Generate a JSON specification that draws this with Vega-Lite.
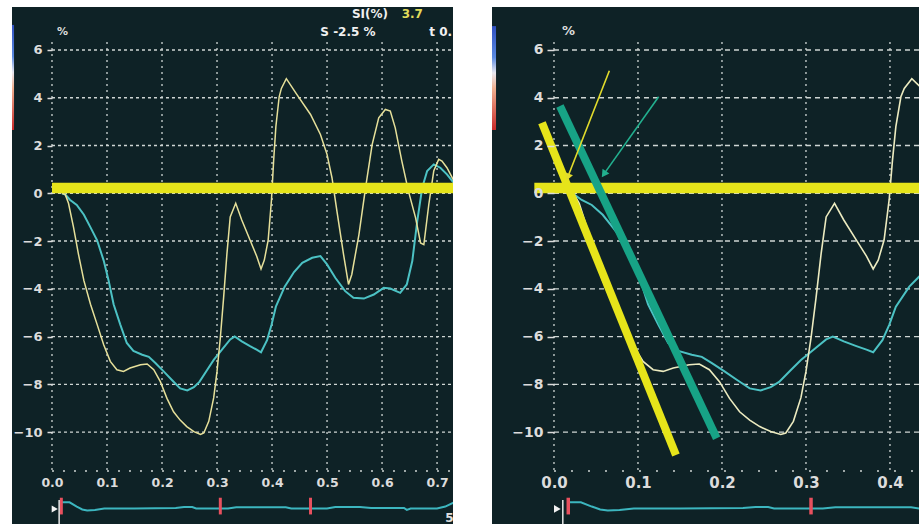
{
  "$schema": "https://vega.github.io/schema/vega-lite/v6.json",
  "background": "white",
  "padding": {"left": 12, "top": 7, "right": 0, "bottom": 0},
  "spacing": 33,
  "config": {
    "view": {"stroke": null, "fill": "#0e2226"},
    "text": {"font": "DejaVu Sans"}
  },
  "datasets": {
    "strain": [
      {"t": 0.018, "v": 0, "s": "yellow"}, {"t": 0.024, "v": -0.05, "s": "yellow"}, {"t": 0.030, "v": -0.42, "s": "yellow"}, {"t": 0.039, "v": -1.41, "s": "yellow"},
      {"t": 0.048, "v": -2.54, "s": "yellow"}, {"t": 0.058, "v": -3.66, "s": "yellow"}, {"t": 0.070, "v": -4.65, "s": "yellow"}, {"t": 0.082, "v": -5.49, "s": "yellow"},
      {"t": 0.094, "v": -6.34, "s": "yellow"}, {"t": 0.106, "v": -7.04, "s": "yellow"}, {"t": 0.118, "v": -7.39, "s": "yellow"}, {"t": 0.130, "v": -7.46, "s": "yellow"},
      {"t": 0.142, "v": -7.32, "s": "yellow"}, {"t": 0.161, "v": -7.18, "s": "yellow"}, {"t": 0.173, "v": -7.15, "s": "yellow"}, {"t": 0.185, "v": -7.39, "s": "yellow"},
      {"t": 0.197, "v": -7.89, "s": "yellow"}, {"t": 0.209, "v": -8.59, "s": "yellow"}, {"t": 0.221, "v": -9.15, "s": "yellow"}, {"t": 0.233, "v": -9.50, "s": "yellow"},
      {"t": 0.245, "v": -9.77, "s": "yellow"}, {"t": 0.258, "v": -9.98, "s": "yellow"}, {"t": 0.270, "v": -10.10, "s": "yellow"}, {"t": 0.276, "v": -10.04, "s": "yellow"},
      {"t": 0.285, "v": -9.55, "s": "yellow"}, {"t": 0.294, "v": -8.56, "s": "yellow"}, {"t": 0.300, "v": -7.46, "s": "yellow"}, {"t": 0.306, "v": -6.06, "s": "yellow"},
      {"t": 0.312, "v": -4.37, "s": "yellow"}, {"t": 0.318, "v": -2.54, "s": "yellow"}, {"t": 0.324, "v": -0.99, "s": "yellow"}, {"t": 0.334, "v": -0.42, "s": "yellow"},
      {"t": 0.345, "v": -1.12, "s": "yellow"}, {"t": 0.360, "v": -1.96, "s": "yellow"}, {"t": 0.372, "v": -2.63, "s": "yellow"}, {"t": 0.380, "v": -3.17, "s": "yellow"},
      {"t": 0.386, "v": -2.80, "s": "yellow"}, {"t": 0.393, "v": -1.96, "s": "yellow"}, {"t": 0.399, "v": -0.28, "s": "yellow"}, {"t": 0.403, "v": 1.39, "s": "yellow"},
      {"t": 0.407, "v": 2.79, "s": "yellow"}, {"t": 0.413, "v": 4.04, "s": "yellow"}, {"t": 0.417, "v": 4.39, "s": "yellow"}, {"t": 0.426, "v": 4.80, "s": "yellow"},
      {"t": 0.445, "v": 4.14, "s": "yellow"}, {"t": 0.470, "v": 3.30, "s": "yellow"}, {"t": 0.488, "v": 2.46, "s": "yellow"}, {"t": 0.500, "v": 1.63, "s": "yellow"},
      {"t": 0.509, "v": 0.65, "s": "yellow"}, {"t": 0.518, "v": -0.75, "s": "yellow"}, {"t": 0.530, "v": -2.56, "s": "yellow"}, {"t": 0.539, "v": -3.82, "s": "yellow"},
      {"t": 0.545, "v": -3.40, "s": "yellow"}, {"t": 0.558, "v": -1.73, "s": "yellow"}, {"t": 0.570, "v": 0.23, "s": "yellow"}, {"t": 0.582, "v": 2.04, "s": "yellow"},
      {"t": 0.594, "v": 3.16, "s": "yellow"}, {"t": 0.606, "v": 3.51, "s": "yellow"}, {"t": 0.615, "v": 3.44, "s": "yellow"}, {"t": 0.624, "v": 2.74, "s": "yellow"},
      {"t": 0.636, "v": 1.35, "s": "yellow"}, {"t": 0.648, "v": 0.09, "s": "yellow"}, {"t": 0.661, "v": -1.03, "s": "yellow"}, {"t": 0.670, "v": -2.08, "s": "yellow"},
      {"t": 0.676, "v": -2.15, "s": "yellow"}, {"t": 0.685, "v": -0.47, "s": "yellow"}, {"t": 0.694, "v": 0.93, "s": "yellow"}, {"t": 0.703, "v": 1.42, "s": "yellow"},
      {"t": 0.709, "v": 1.35, "s": "yellow"}, {"t": 0.718, "v": 1.07, "s": "yellow"}, {"t": 0.730, "v": 0.55, "s": "yellow"},
      {"t": 0.018, "v": 0, "s": "cyan"}, {"t": 0.024, "v": -0.05, "s": "cyan"}, {"t": 0.033, "v": -0.28, "s": "cyan"}, {"t": 0.045, "v": -0.49, "s": "cyan"},
      {"t": 0.058, "v": -0.90, "s": "cyan"}, {"t": 0.070, "v": -1.43, "s": "cyan"}, {"t": 0.082, "v": -1.97, "s": "cyan"}, {"t": 0.094, "v": -2.82, "s": "cyan"},
      {"t": 0.103, "v": -3.66, "s": "cyan"}, {"t": 0.112, "v": -4.65, "s": "cyan"}, {"t": 0.124, "v": -5.49, "s": "cyan"}, {"t": 0.136, "v": -6.27, "s": "cyan"},
      {"t": 0.148, "v": -6.60, "s": "cyan"}, {"t": 0.164, "v": -6.76, "s": "cyan"}, {"t": 0.176, "v": -6.85, "s": "cyan"}, {"t": 0.188, "v": -7.11, "s": "cyan"},
      {"t": 0.203, "v": -7.46, "s": "cyan"}, {"t": 0.218, "v": -7.82, "s": "cyan"}, {"t": 0.233, "v": -8.17, "s": "cyan"}, {"t": 0.246, "v": -8.26, "s": "cyan"},
      {"t": 0.258, "v": -8.12, "s": "cyan"}, {"t": 0.268, "v": -7.90, "s": "cyan"}, {"t": 0.282, "v": -7.40, "s": "cyan"}, {"t": 0.294, "v": -6.98, "s": "cyan"},
      {"t": 0.309, "v": -6.55, "s": "cyan"}, {"t": 0.324, "v": -6.12, "s": "cyan"}, {"t": 0.332, "v": -6.00, "s": "cyan"}, {"t": 0.345, "v": -6.20, "s": "cyan"},
      {"t": 0.360, "v": -6.40, "s": "cyan"}, {"t": 0.372, "v": -6.55, "s": "cyan"}, {"t": 0.380, "v": -6.66, "s": "cyan"}, {"t": 0.391, "v": -6.15, "s": "cyan"},
      {"t": 0.399, "v": -5.52, "s": "cyan"}, {"t": 0.407, "v": -4.75, "s": "cyan"}, {"t": 0.423, "v": -3.91, "s": "cyan"}, {"t": 0.440, "v": -3.30, "s": "cyan"},
      {"t": 0.455, "v": -2.91, "s": "cyan"}, {"t": 0.473, "v": -2.70, "s": "cyan"}, {"t": 0.488, "v": -2.63, "s": "cyan"}, {"t": 0.500, "v": -2.98, "s": "cyan"},
      {"t": 0.515, "v": -3.54, "s": "cyan"}, {"t": 0.533, "v": -4.10, "s": "cyan"}, {"t": 0.548, "v": -4.38, "s": "cyan"}, {"t": 0.567, "v": -4.41, "s": "cyan"},
      {"t": 0.585, "v": -4.24, "s": "cyan"}, {"t": 0.603, "v": -3.96, "s": "cyan"}, {"t": 0.615, "v": -3.99, "s": "cyan"}, {"t": 0.633, "v": -4.17, "s": "cyan"},
      {"t": 0.645, "v": -3.82, "s": "cyan"}, {"t": 0.655, "v": -2.84, "s": "cyan"}, {"t": 0.664, "v": -1.17, "s": "cyan"}, {"t": 0.673, "v": 0.23, "s": "cyan"},
      {"t": 0.682, "v": 0.93, "s": "cyan"}, {"t": 0.694, "v": 1.21, "s": "cyan"}, {"t": 0.706, "v": 1.07, "s": "cyan"}, {"t": 0.718, "v": 0.79, "s": "cyan"},
      {"t": 0.730, "v": 0.45, "s": "cyan"}
    ],
    "ecg": [
      {"t": 0.016, "v": -12.94}, {"t": 0.032, "v": -12.94}, {"t": 0.045, "v": -13.12}, {"t": 0.055, "v": -13.24}, {"t": 0.064, "v": -13.28},
      {"t": 0.078, "v": -13.26}, {"t": 0.095, "v": -13.20}, {"t": 0.150, "v": -13.20}, {"t": 0.225, "v": -13.18}, {"t": 0.240, "v": -13.14},
      {"t": 0.255, "v": -13.14}, {"t": 0.262, "v": -13.20}, {"t": 0.320, "v": -13.20}, {"t": 0.335, "v": -13.15}, {"t": 0.425, "v": -13.15},
      {"t": 0.435, "v": -13.20}, {"t": 0.500, "v": -13.20}, {"t": 0.515, "v": -13.14}, {"t": 0.560, "v": -13.14}, {"t": 0.580, "v": -13.18},
      {"t": 0.640, "v": -13.18}, {"t": 0.645, "v": -13.26}, {"t": 0.652, "v": -13.20}, {"t": 0.700, "v": -13.20}, {"t": 0.715, "v": -13.12},
      {"t": 0.730, "v": -12.95}
    ],
    "markers": [{"t": 0.017}, {"t": 0.306}, {"t": 0.47}],
    "xgridL": [{"g": 0}, {"g": 0.1}, {"g": 0.2}, {"g": 0.3}, {"g": 0.4}, {"g": 0.5}, {"g": 0.6}, {"g": 0.7}],
    "xgridR": [{"g": 0}, {"g": 0.1}, {"g": 0.2}, {"g": 0.3}, {"g": 0.4}],
    "ygrid": [{"g": 6}, {"g": 4}, {"g": 2}, {"g": 0}, {"g": -2}, {"g": -4}, {"g": -6}, {"g": -8}, {"g": -10}],
    "one": [{}]
  },
  "hconcat": [
    {
      "width": 441,
      "height": 517,
      "layer": [
        {
          "data": {"name": "xgridL"},
          "mark": {"type": "rule", "color": "#cfd6d4", "strokeWidth": 1.3, "strokeDash": [2, 4]},
          "encoding": {
            "x": {"field": "g", "type": "quantitative", "title": null, "scale": {"domain": [-0.0727, 0.729], "nice": false, "zero": false},
                  "axis": {"title": null, "values": [0, 0.1, 0.2, 0.3, 0.4, 0.5, 0.6, 0.7], "format": ".1f", "offset": -54, "domain": false, "grid": false, "ticks": false, "tickSize": 0, "labelPadding": 6, "labelFont": "DejaVu Sans", "labelFontWeight": "bold", "labelColor": "#dcdcdc", "labelFontSize": 12.5, "zindex": 1}},
            "y": {"datum": 6.33, "type": "quantitative", "title": null, "scale": {"domain": [-13.85, 7.8], "nice": false, "zero": false},
                  "axis": {"title": null, "values": [6, 4, 2, 0, -2, -4, -6, -8, -10], "offset": -40, "domain": false, "grid": false, "ticks": true, "tickSize": 5, "tickWidth": 1.5, "tickColor": "#dcdcdc", "labelPadding": 5, "labelFont": "DejaVu Sans", "labelFontWeight": "bold", "labelColor": "#dcdcdc", "labelFontSize": 13, "zindex": 1}},
            "y2": {"datum": -11.63}
          }
        },
        {
          "data": {"name": "ygrid"},
          "mark": {"type": "rule", "color": "#cfd6d4", "strokeWidth": 1.3, "strokeDash": [3, 3]},
          "encoding": {"y": {"field": "g", "type": "quantitative", "title": null}, "x": {"datum": 0}, "x2": {"datum": 0.729}}
        },
        {
          "data": {"name": "one"},
          "mark": {"type": "rule", "color": "#cfd6d4", "strokeWidth": 1.5, "strokeDash": [2, 9]},
          "encoding": {"y": {"datum": -11.63}, "x": {"datum": 0}, "x2": {"datum": 0.729}}
        },
        {
          "data": {"name": "strain"},
          "transform": [{"filter": "datum.s === 'cyan'"}],
          "mark": {"type": "line", "color": "#4cc2c4", "strokeWidth": 2, "clip": true},
          "encoding": {"x": {"field": "t", "type": "quantitative", "title": null}, "y": {"field": "v", "type": "quantitative", "title": null}}
        },
        {
          "data": {"name": "strain"},
          "transform": [{"filter": "datum.s === 'yellow'"}],
          "mark": {"type": "line", "color": "#e6e09a", "strokeWidth": 1.5, "clip": true},
          "encoding": {"x": {"field": "t", "type": "quantitative", "title": null}, "y": {"field": "v", "type": "quantitative", "title": null}}
        },
        {
          "data": {"name": "one"},
          "mark": {"type": "rule", "color": "#e6e41a", "strokeWidth": 10.7},
          "encoding": {"y": {"datum": 0.22}, "x": {"datum": 0}, "x2": {"datum": 0.729}}
        },
        {
          "data": {"name": "ecg"},
          "mark": {"type": "line", "color": "#3cb6bf", "strokeWidth": 2, "clip": true},
          "encoding": {"x": {"field": "t", "type": "quantitative", "title": null}, "y": {"field": "v", "type": "quantitative", "title": null}}
        },
        {
          "data": {"name": "markers"},
          "mark": {"type": "rule", "color": "#e8505e", "strokeWidth": 3},
          "encoding": {"x": {"field": "t", "type": "quantitative", "title": null}, "y": {"datum": -12.75}, "y2": {"datum": -13.45}}
        },
        {
          "data": {"name": "one"},
          "mark": {"type": "rule", "color": "#e8e8e8", "strokeWidth": 1.5},
          "encoding": {"x": {"datum": 0.013}, "y": {"datum": -12.85}, "y2": {"datum": -13.85}}
        },
        {
          "data": {"name": "one"},
          "mark": {"type": "point", "shape": "triangle-right", "filled": true, "color": "#f2f2f2", "size": 50, "opacity": 1},
          "encoding": {"x": {"datum": 0.005}, "y": {"datum": -13.22}}
        },
        {
          "data": {"name": "one"},
          "mark": {"type": "rect", "color": {"gradient": "linear", "x1": 0, "y1": 0, "x2": 0, "y2": 1, "stops": [{"offset": 0, "color": "#3050c0"}, {"offset": 0.3, "color": "#5a8ae0"}, {"offset": 0.45, "color": "#e8e8f0"}, {"offset": 0.6, "color": "#f0b090"}, {"offset": 1, "color": "#c82a2a"}]}},
          "encoding": {"x": {"datum": -0.0727}, "x2": {"datum": -0.069}, "y": {"datum": 7.05}, "y2": {"datum": 2.65}}
        },
        {
          "data": {"name": "one"},
          "mark": {"type": "text", "text": "%", "color": "#dcdcdc", "fontWeight": "bold", "fontSize": 11, "align": "left"},
          "encoding": {"x": {"datum": 0.009}, "y": {"datum": 6.75}}
        },
        {
          "data": {"name": "one"},
          "mark": {"type": "text", "text": "SI(%)", "color": "#f0f0f0", "fontWeight": "bold", "fontSize": 12},
          "encoding": {"x": {"datum": 0.578}, "y": {"datum": 7.5}}
        },
        {
          "data": {"name": "one"},
          "mark": {"type": "text", "text": "3.7", "color": "#e2dc5a", "fontWeight": "bold", "fontSize": 12},
          "encoding": {"x": {"datum": 0.655}, "y": {"datum": 7.5}}
        },
        {
          "data": {"name": "one"},
          "mark": {"type": "text", "text": "S -2.5 %", "color": "#f0f0f0", "fontWeight": "bold", "fontSize": 12},
          "encoding": {"x": {"datum": 0.538}, "y": {"datum": 6.75}}
        },
        {
          "data": {"name": "one"},
          "mark": {"type": "text", "text": "t 0.", "color": "#f0f0f0", "fontWeight": "bold", "fontSize": 12, "align": "left", "clip": true},
          "encoding": {"x": {"datum": 0.686}, "y": {"datum": 6.75}}
        },
        {
          "data": {"name": "one"},
          "mark": {"type": "text", "text": "5", "color": "#e0e0e0", "fontWeight": "bold", "fontSize": 12, "align": "left", "clip": true},
          "encoding": {"x": {"datum": 0.715}, "y": {"datum": -13.6}}
        }
      ]
    },
    {
      "width": 433,
      "height": 517,
      "layer": [
        {
          "data": {"name": "xgridR"},
          "mark": {"type": "rule", "color": "#cfd6d4", "strokeWidth": 1.3, "strokeDash": [2, 4]},
          "encoding": {
            "x": {"field": "g", "type": "quantitative", "title": null, "scale": {"domain": [-0.0738, 0.4417], "nice": false, "zero": false},
                  "axis": {"title": null, "values": [0, 0.1, 0.2, 0.3, 0.4], "format": ".1f", "offset": -54, "domain": false, "grid": false, "ticks": false, "tickSize": 0, "labelPadding": 5, "labelFont": "DejaVu Sans", "labelFontWeight": "bold", "labelColor": "#dcdcdc", "labelFontSize": 15, "zindex": 1}},
            "y": {"datum": 6.33, "type": "quantitative", "title": null, "scale": {"domain": [-13.85, 7.8], "nice": false, "zero": false},
                  "axis": {"title": null, "values": [6, 4, 2, 0, -2, -4, -6, -8, -10], "offset": -62, "domain": false, "grid": false, "ticks": true, "tickSize": 7, "tickWidth": 1.5, "tickColor": "#dcdcdc", "labelPadding": 4, "labelFont": "DejaVu Sans", "labelFontWeight": "bold", "labelColor": "#dcdcdc", "labelFontSize": 14, "zindex": 1}},
            "y2": {"datum": -11.63}
          }
        },
        {
          "data": {"name": "ygrid"},
          "mark": {"type": "rule", "color": "#cfd6d4", "strokeWidth": 1.3, "strokeDash": [5, 4]},
          "encoding": {"y": {"field": "g", "type": "quantitative", "title": null}, "x": {"datum": 0}, "x2": {"datum": 0.4417}}
        },
        {
          "data": {"name": "one"},
          "mark": {"type": "rule", "color": "#cfd6d4", "strokeWidth": 1.5, "strokeDash": [2, 15]},
          "encoding": {"y": {"datum": -11.63}, "x": {"datum": 0}, "x2": {"datum": 0.4417}}
        },
        {
          "data": {"name": "strain"},
          "transform": [{"filter": "datum.s === 'cyan'"}],
          "mark": {"type": "line", "color": "#4cc2c4", "strokeWidth": 2, "clip": true},
          "encoding": {"x": {"field": "t", "type": "quantitative", "title": null}, "y": {"field": "v", "type": "quantitative", "title": null}}
        },
        {
          "data": {"name": "strain"},
          "transform": [{"filter": "datum.s === 'yellow'"}],
          "mark": {"type": "line", "color": "#ecebc0", "strokeWidth": 1.6, "clip": true},
          "encoding": {"x": {"field": "t", "type": "quantitative", "title": null}, "y": {"field": "v", "type": "quantitative", "title": null}}
        },
        {
          "data": {"name": "one"},
          "mark": {"type": "rule", "color": "#e6e41a", "strokeWidth": 10.7},
          "encoding": {"y": {"datum": 0.22}, "x": {"datum": -0.0234}, "x2": {"datum": 0.4417}}
        },
        {
          "data": {"name": "one"},
          "mark": {"type": "rule", "color": "#e6e41a", "strokeWidth": 8},
          "encoding": {"x": {"datum": -0.0143}, "y": {"datum": 2.955}, "x2": {"datum": 0.1452}, "y2": {"datum": -10.96}}
        },
        {
          "data": {"name": "one"},
          "mark": {"type": "rule", "color": "#17a386", "strokeWidth": 8},
          "encoding": {"x": {"datum": 0.0071}, "y": {"datum": 3.654}, "x2": {"datum": 0.1937}, "y2": {"datum": -10.26}}
        },
        {
          "data": {"name": "one"},
          "mark": {"type": "rule", "color": "#e2dc2c", "strokeWidth": 1.6},
          "encoding": {"x": {"datum": 0.0659}, "y": {"datum": 5.13}, "x2": {"datum": 0.0164}, "y2": {"datum": 0.68}}
        },
        {
          "data": {"name": "one"},
          "mark": {"type": "point", "shape": "triangle-up", "filled": true, "color": "#e2dc2c", "size": 70, "angle": 201, "opacity": 1},
          "encoding": {"x": {"datum": 0.0164}, "y": {"datum": 0.68}}
        },
        {
          "data": {"name": "one"},
          "mark": {"type": "rule", "color": "#22b08f", "strokeWidth": 1.6},
          "encoding": {"x": {"datum": 0.1246}, "y": {"datum": 4.04}, "x2": {"datum": 0.0594}, "y2": {"datum": 0.8}}
        },
        {
          "data": {"name": "one"},
          "mark": {"type": "point", "shape": "triangle-up", "filled": true, "color": "#22b08f", "size": 70, "angle": 215, "opacity": 1},
          "encoding": {"x": {"datum": 0.0594}, "y": {"datum": 0.8}}
        },
        {
          "data": {"name": "ecg"},
          "mark": {"type": "line", "color": "#3cb6bf", "strokeWidth": 2, "clip": true},
          "encoding": {"x": {"field": "t", "type": "quantitative", "title": null}, "y": {"field": "v", "type": "quantitative", "title": null}}
        },
        {
          "data": {"name": "markers"},
          "mark": {"type": "rule", "color": "#e8505e", "strokeWidth": 3.5, "clip": true},
          "encoding": {"x": {"field": "t", "type": "quantitative", "title": null}, "y": {"datum": -12.75}, "y2": {"datum": -13.45}}
        },
        {
          "data": {"name": "one"},
          "mark": {"type": "rule", "color": "#e8e8e8", "strokeWidth": 1.5},
          "encoding": {"x": {"datum": 0.0105}, "y": {"datum": -12.85}, "y2": {"datum": -13.85}}
        },
        {
          "data": {"name": "one"},
          "mark": {"type": "point", "shape": "triangle-right", "filled": true, "color": "#f2f2f2", "size": 60, "opacity": 1},
          "encoding": {"x": {"datum": 0.004}, "y": {"datum": -13.22}}
        },
        {
          "data": {"name": "one"},
          "mark": {"type": "rect", "color": {"gradient": "linear", "x1": 0, "y1": 0, "x2": 0, "y2": 1, "stops": [{"offset": 0, "color": "#3050c0"}, {"offset": 0.3, "color": "#5a8ae0"}, {"offset": 0.45, "color": "#e8e8f0"}, {"offset": 0.6, "color": "#f0b090"}, {"offset": 1, "color": "#c82a2a"}]}},
          "encoding": {"x": {"datum": -0.0738}, "x2": {"datum": -0.069}, "y": {"datum": 7.0}, "y2": {"datum": 2.65}}
        },
        {
          "data": {"name": "one"},
          "mark": {"type": "text", "text": "%", "color": "#dcdcdc", "fontWeight": "bold", "fontSize": 13, "align": "left"},
          "encoding": {"x": {"datum": 0.0095}, "y": {"datum": 6.79}}
        }
      ]
    }
  ]
}
